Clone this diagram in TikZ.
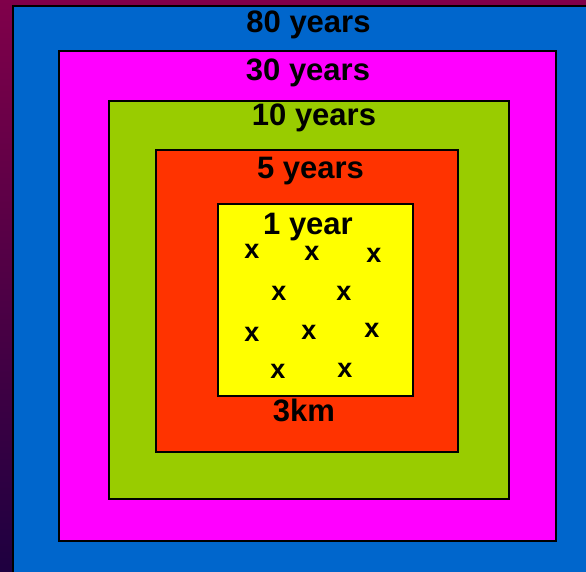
\documentclass[tikz,border=0pt]{standalone}
\usepackage{fontspec}
\setmainfont{Liberation Sans}
\definecolor{bgtop}{HTML}{80004A}
\definecolor{bgbottom}{HTML}{1E0040}
\definecolor{zoneblue}{HTML}{0066CC}
\definecolor{zonemagenta}{HTML}{FF00FF}
\definecolor{zonegreen}{HTML}{99CC00}
\definecolor{zonered}{HTML}{FF3300}
\definecolor{zoneyellow}{HTML}{FFFF00}
\begin{document}
\begin{tikzpicture}[
        x=1pt, y=-1pt,
        zone/.style={rectangle, draw=black, line width=1.6pt, inner sep=0pt, anchor=north west},
        years/.style={font=\fontsize{31}{32}\selectfont\bfseries, inner sep=0pt, anchor=base},
        xsign/.style={font=\fontsize{27}{28}\selectfont\bfseries, inner sep=0pt}
    ]

    % Background and page size
    \useasboundingbox (0,0) rectangle (586,572);
    \clip (0,0) rectangle (586,572);
    \shade[top color=bgtop, bottom color=bgbottom] (0,0) rectangle (586,572);

    % Nested zones, outer to inner
    \node[zone, fill=zoneblue, minimum width=600pt, minimum height=600pt] (z80) at (12,5) {};
    \node[zone, fill=zonemagenta, minimum width=497pt, minimum height=490pt] (z30) at (58,50) {};
    \node[zone, fill=zonegreen, minimum width=400pt, minimum height=398pt] (z10) at (108,100) {};
    \node[zone, fill=zonered, minimum width=302pt, minimum height=302pt] (z5) at (155,149) {};
    \node[zone, fill=zoneyellow, minimum width=195pt, minimum height=192pt] (z1) at (217,203) {};

    % Zone labels
    \node[years] (l80) at (308.5,33) {80 years};
    \node[years] (l30) at (308,81) {30 years};
    \node[years] (l10) at (314,126) {10 years};
    \node[years] (l5) at (310.5,179) {5 years};
    \node[years] (l1) at (308,234) {1 year};
    \node[years] (lkm) at (304,421) {3km};

    % Crosses in the inner square
    \foreach \px/\py [count=\i] in {252/251, 312/253, 374/255, 279/293, 344/293,
                                    252/334, 309/332, 372/330.5, 278/371.5, 345/370}
        \node[xsign] (x\i) at (\px,\py) {x};

\end{tikzpicture}
\end{document}
